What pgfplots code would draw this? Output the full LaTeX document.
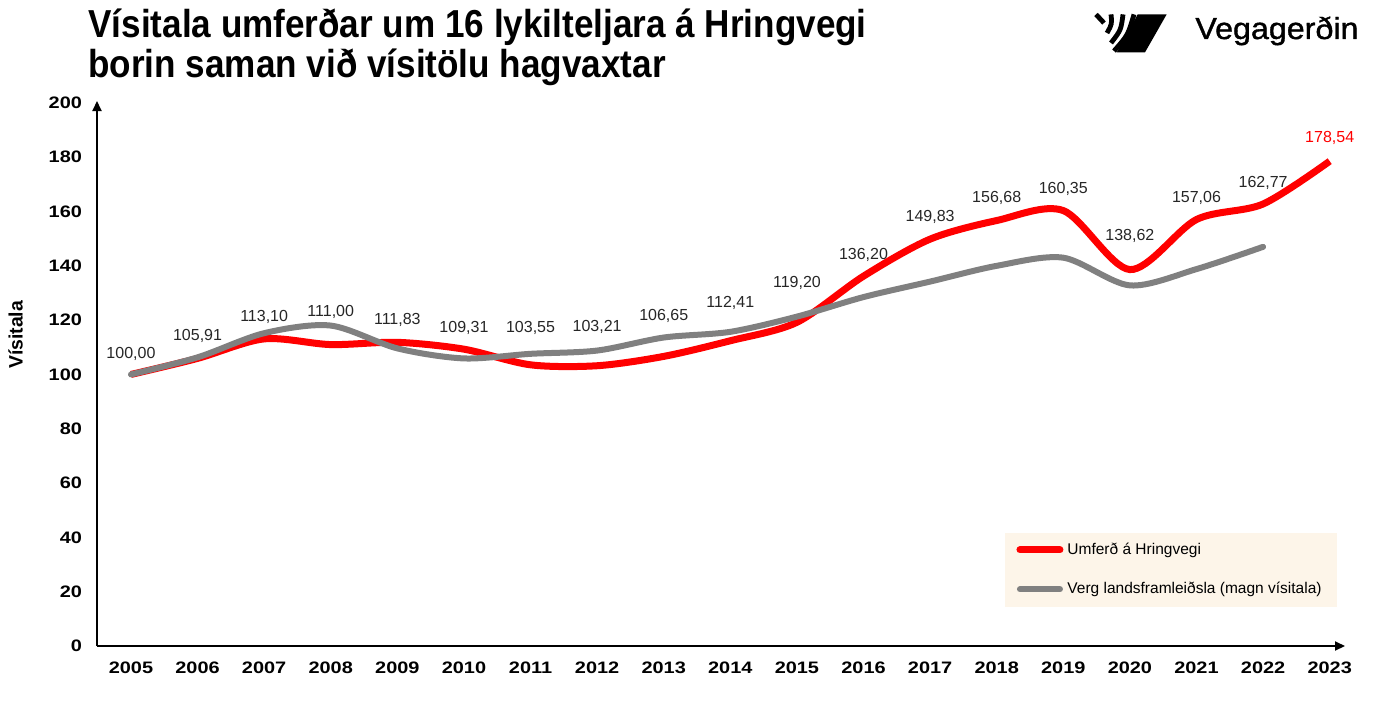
\documentclass[border=0pt]{standalone}
\usepackage{pgfplots}
\pgfplotsset{compat=1.18}
\usepackage{pgfplotstable}
\usepackage{fontspec}
\usetikzlibrary{arrows.meta}
\setmainfont{Liberation Sans}
\newfontfamily\tickfont[FakeStretch=1.2]{Liberation Sans}
\newfontfamily\titlefont[FakeStretch=0.9]{Liberation Sans}
\newfontfamily\logofont[FakeStretch=1.06,FakeBold=1.2]{Liberation Sans}
\definecolor{myred}{HTML}{FF0000}
\definecolor{mygray}{HTML}{808080}
\definecolor{lblcol}{HTML}{262626}
\definecolor{legbg}{HTML}{FDF5E9}

\pgfplotstableread{
year val
2005 100.00
2006 105.91
2007 113.10
2008 111.00
2009 111.83
2010 109.31
2011 103.55
2012 103.21
2013 106.65
2014 112.41
2015 119.20
2016 136.20
2017 149.83
2018 156.68
2019 160.35
2020 138.62
2021 157.06
2022 162.77
2023 178.54
}\redtab

\pgfplotstableread{
year val
2005 100.0
2006 106.3
2007 115.2
2008 118.0
2009 109.6
2010 105.9
2011 107.6
2012 108.8
2013 113.6
2014 115.7
2015 121.3
2016 128.5
2017 134.2
2018 140.0
2019 143.0
2020 132.8
2021 138.8
2022 147.0
}\graytab

\pgfplotstableread{
year ly lbl
2005 107.7 100,00
2006 114.0 105,91
2007 121.3 113,10
2008 123.2 111,00
2009 119.9 111,83
2010 117.3 109,31
2011 117.3 103,55
2012 117.6 103,21
2013 121.7 106,65
2014 126.5 112,41
2015 133.8 119,20
2016 144.1 136,20
2017 158.1 149,83
2018 165.1 156,68
2019 168.4 160,35
2020 151.1 138,62
2021 165.1 157,06
2022 170.6 162,77
}\lbltab

\pgfplotstableread{
year ly lbl
2023 187.1 178,54
}\lbllast

\begin{document}
\begin{tikzpicture}
\begin{axis}[
  scale only axis,
  width=624pt, height=272.5pt,
  xmin=2004.49, xmax=2023.23,
  ymin=0, ymax=200.7,
  axis lines=left,
  axis line style={line width=1pt, -{Triangle[length=5pt,width=4.5pt]}},
  major tick length=0pt,
  xtick={2005,2006,...,2023},
  ytick={0,20,...,200},
  /pgf/number format/assume math mode=true,
  /pgf/number format/1000 sep={},
  xticklabel style={font=\tickfont\bfseries\fontsize{8.3}{9}\selectfont, yshift=-4.5pt},
  yticklabel style={font=\tickfont\bfseries\fontsize{8.3}{9}\selectfont, xshift=-4pt},
  ylabel={Vísitala},
  ylabel style={at={(axis description cs:-0.0653,0.571)}, anchor=center, font=\bfseries\fontsize{9.7}{11}\selectfont},
  clip=false,
  legend style={at={(0.7276,0.0716)}, anchor=south west, fill=legbg, draw=none,
    inner xsep=5.5pt, inner ysep=3pt, row sep=8.5pt,
    font=\fontsize{7.75}{9}\selectfont},
  legend cell align=left,
  legend image code/.code={\draw[#1, line cap=round] (0pt,0pt) -- (20pt,0pt);},
]
\addplot[myred, line width=3.5pt, smooth, tension=0.5] table[x=year,y=val] {\redtab};
\addlegendentry{Umferð á Hringvegi}
\addplot[mygray, line width=3pt, smooth, tension=0.5, line cap=round] table[x=year,y=val] {\graytab};
\addlegendentry{Verg landsframleiðsla (magn vísitala)}
\addplot[draw=none, forget plot, nodes near coords, point meta=explicit symbolic,
  every node near coord/.style={anchor=center, text=lblcol, font=\fontsize{8}{9}\selectfont}]
  table[x=year,y=ly,meta=lbl] {\lbltab};
\addplot[draw=none, forget plot, nodes near coords, point meta=explicit symbolic,
  every node near coord/.style={anchor=center, text=myred, font=\fontsize{8}{9}\selectfont}]
  table[x=year,y=ly,meta=lbl] {\lbllast};
\end{axis}
% title
\node[anchor=north west, align=left, inner sep=0pt, font=\titlefont\bfseries\fontsize{19.5}{20}\selectfont]
  at (-4.5pt,319pt) {Vísitala umferðar um 16 lykilteljara á Hringvegi\\borin saman við vísitölu hagvaxtar};
% logo
\node[anchor=base west, inner sep=0pt, font=\logofont\fontsize{15.2}{17}\selectfont] at (549pt,303.5pt) {Vegagerðin};
\fill[black] (520.35pt,315.85pt) -- (534.85pt,315.85pt) -- (524pt,296.85pt) -- (509.85pt,296.85pt) -- cycle;
\begin{scope}[line width=2.4pt, line cap=butt]
\draw (499.5pt,315.8pt) .. controls (501.5pt,313.5pt) .. (503.5pt,311.5pt);
\draw (507pt,315.8pt) .. controls (507.5pt,311pt) .. (505pt,306.5pt);
\draw (513pt,315.8pt) .. controls (512pt,308pt) .. (507pt,301.5pt);
\draw (518.5pt,315.8pt) .. controls (515.5pt,305.5pt) .. (508.5pt,297.5pt);
\end{scope}
\pgfresetboundingbox
\path[use as bounding box] (-48.5pt,-28.5pt) rectangle (641.5pt,323pt);
\end{tikzpicture}
\end{document}
